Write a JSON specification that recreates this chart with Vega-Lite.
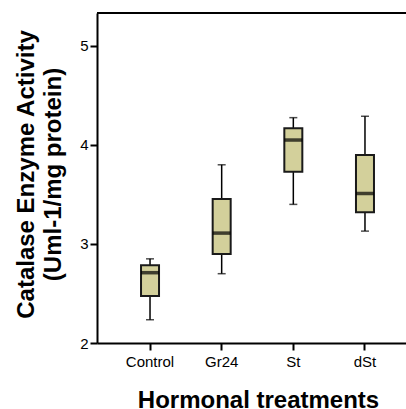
{
  "$schema": "https://vega.github.io/schema/vega-lite/v6.json",
  "width": 309,
  "height": 330,
  "autosize": {"type": "none"},
  "padding": {"left": 97, "top": 13, "right": 0, "bottom": 66},
  "background": "white",
  "config": {
    "font": "Liberation Sans",
    "view": {"stroke": null},
    "axis": {"grid": false, "domainColor": "black", "tickColor": "black", "labelColor": "black", "titleColor": "black"}
  },
  "data": {"values": [
    {"group": "Control", "min": 2.235, "q1": 2.475, "median": 2.71, "q3": 2.785, "max": 2.85},
    {"group": "Gr24", "min": 2.70, "q1": 2.90, "median": 3.11, "q3": 3.455, "max": 3.80},
    {"group": "St", "min": 3.40, "q1": 3.73, "median": 4.05, "q3": 4.17, "max": 4.276},
    {"group": "dSt", "min": 3.13, "q1": 3.32, "median": 3.51, "q3": 3.90, "max": 4.29}
  ]},
  "layer": [
    {
      "encoding": {
        "x": {
          "field": "group", "type": "nominal", "sort": ["Control", "Gr24", "St", "dSt"],
          "scale": {"range": [0, 321], "paddingInner": 0, "paddingOuter": 0.24},
          "axis": {
            "title": "Hormonal treatments", "titleFontSize": 24, "titleFontWeight": "bold",
            "titleBaseline": "alphabetic", "titleY": 64, "titleAnchor": "middle", "titleX": 161,
            "labelFontSize": 15, "labelAngle": 0, "labelPadding": 4,
            "tickSize": 7, "tickWidth": 2, "domainWidth": 2
          }
        }
      },
      "layer": [
        {
          "mark": {"type": "rule", "color": "black", "strokeWidth": 1.5},
          "encoding": {
            "y": {"field": "min", "type": "quantitative",
              "scale": {"domain": [2, 5.333], "nice": false, "zero": false},
              "axis": {
                "title": ["Catalase Enzyme Activity", "(Uml-1/mg protein)"],
                "titleFontSize": 24, "titleFontWeight": "bold", "titlePadding": 14, "titleLineHeight": 27,
                "titleY": 161,
                "values": [2, 3, 4, 5], "format": "d", "labelFontSize": 15, "labelPadding": 2,
                "tickSize": 7, "tickWidth": 2, "domainWidth": 2
              }
            },
            "y2": {"field": "max"}
          }
        },
        {
          "mark": {"type": "tick", "color": "black", "size": 8, "thickness": 1.5, "orient": "horizontal"},
          "encoding": {"y": {"field": "min", "type": "quantitative"}}
        },
        {
          "mark": {"type": "tick", "color": "black", "size": 8, "thickness": 1.5, "orient": "horizontal"},
          "encoding": {"y": {"field": "max", "type": "quantitative"}}
        },
        {
          "mark": {"type": "bar", "size": 18, "fill": "#d3d09b", "stroke": "#1a1a1a", "strokeWidth": 2},
          "encoding": {"y": {"field": "q1", "type": "quantitative"}, "y2": {"field": "q3"}}
        },
        {
          "mark": {"type": "tick", "color": "black", "size": 18, "thickness": 3.5, "orient": "horizontal"},
          "encoding": {"y": {"field": "median", "type": "quantitative"}}
        }
      ]
    },
    {
      "mark": {"type": "rule", "color": "black", "strokeWidth": 2},
      "encoding": {"y": {"datum": 5.333, "type": "quantitative"}}
    }
  ]
}
